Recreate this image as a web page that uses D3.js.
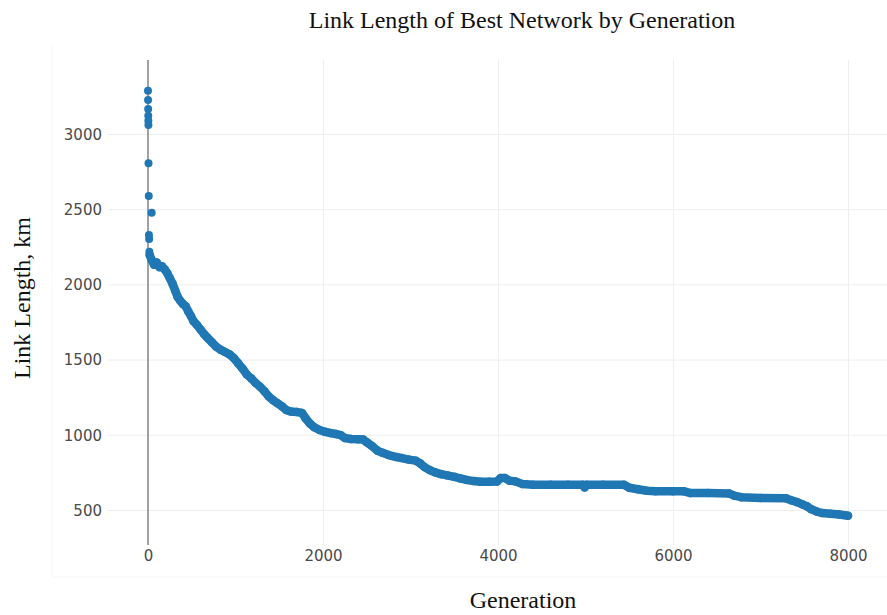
<!DOCTYPE html>
<html>
<head>
<meta charset="utf-8">
<script src="https://cdn.jsdelivr.net/npm/d3@7"></script>
<style>
  html, body { margin: 0; padding: 0; background: #fff; }
  svg { display: block; }
</style>
</head>
<body>
<svg id="chart" width="887" height="615"></svg>
<script>
// Early generations: scattered best-network link lengths before the run settles
const earlyGeneration = [0, 1, 2, 3, 4, 5, 6, 9, 42, 11, 13, 16];
const earlyLength     = [3288, 3226, 3166, 3122, 3088, 3060, 2805, 2588, 2477, 2328, 2301, 2217];

// Main trace: link length (km) of the best network per generation
const generation = [20, 40, 70, 100, 130, 160, 190, 220, 250, 280, 310, 340, 370, 400, 430, 460, 490, 520, 560, 600,
  640, 680, 730, 780, 830, 880, 930, 980, 1030, 1080, 1130, 1180, 1230, 1280, 1330, 1380, 1430, 1480, 1530, 1580,
  1630, 1700, 1760, 1800, 1850, 1900, 1960, 2020, 2080, 2150, 2200, 2250, 2320, 2400, 2460, 2500, 2560, 2620, 2680, 2750,
  2840, 2900, 2980, 3060, 3110, 3160, 3220, 3280, 3350, 3420, 3500, 3570, 3640, 3720, 3800, 3900, 3990, 4030, 4080, 4130,
  4200, 4280, 4400, 4600, 4800, 4970, 4990, 5010, 5200, 5440, 5500, 5600, 5700, 5800, 6000, 6120, 6200, 6400, 6640, 6700,
  6780, 7000, 7290, 7350, 7420, 7480, 7530, 7580, 7640, 7700, 7800, 7900, 8000];
const linkLength = [2195, 2165, 2130, 2145, 2115, 2120, 2100, 2075, 2040, 2005, 1960, 1915, 1890, 1870, 1855, 1820, 1790, 1755, 1730, 1700,
  1670, 1645, 1615, 1585, 1565, 1550, 1535, 1510, 1475, 1440, 1400, 1375, 1345, 1320, 1290, 1255, 1230, 1210, 1190, 1165,
  1155, 1152, 1145, 1110, 1075, 1050, 1032, 1020, 1012, 1005, 998, 978, 972, 970, 968, 950, 925, 895, 880, 865,
  852, 845, 835, 828, 810, 785, 765, 750, 738, 730, 720, 710, 700, 692, 688, 688, 690, 712, 712, 695,
  690, 672, 668, 668, 668, 668, 650, 668, 668, 668, 648, 638, 628, 625, 625, 625, 612, 612, 610, 595,
  585, 580, 578, 565, 552, 537, 525, 505, 490, 480, 475, 470, 462];

const xTicks = [0, 2000, 4000, 6000, 8000];
const yTicks = [500, 1000, 1500, 2000, 2500, 3000];

const markerColor = "#1f77b4";
const plot = { left: 108, right: 887, top: 60, bottom: 545 };

const svg = d3.select("#chart");

const x = d3.scaleLinear().domain([-457, 8446]).range([plot.left, plot.right]);
const y = d3.scaleLinear().domain([267, 3492]).range([plot.bottom, plot.top]);

// faint page frame lines
svg.append("line").attr("x1", 52).attr("x2", 52).attr("y1", 45).attr("y2", 577)
  .attr("stroke", "#f6f6f6").attr("stroke-width", 1);
svg.append("line").attr("x1", 52).attr("x2", 887).attr("y1", 577).attr("y2", 577)
  .attr("stroke", "#f6f6f6").attr("stroke-width", 1);

// grid
const grid = svg.append("g");
grid.selectAll("line.h").data(yTicks).join("line")
  .attr("x1", plot.left).attr("x2", plot.right)
  .attr("y1", d => y(d) + 0.5).attr("y2", d => y(d) + 0.5)
  .attr("stroke", "#eeeeee").attr("stroke-width", 1);
grid.selectAll("line.v").data(xTicks.filter(d => d !== 0)).join("line")
  .attr("x1", d => x(d) + 0.5).attr("x2", d => x(d) + 0.5)
  .attr("y1", plot.top).attr("y2", plot.bottom)
  .attr("stroke", "#eeeeee").attr("stroke-width", 1);

// zero line
svg.append("line")
  .attr("x1", x(0)).attr("x2", x(0))
  .attr("y1", plot.top).attr("y2", plot.bottom)
  .attr("stroke", "#8a8a8a").attr("stroke-width", 1.6);

// axes (labels only)
const tickFont = "'DejaVu Sans', Verdana, sans-serif";
const yAxis = svg.append("g").attr("transform", `translate(${plot.left - 6},0)`)
  .call(d3.axisLeft(y).tickValues(yTicks).tickSize(0).tickPadding(0).tickFormat(d3.format("d")));
yAxis.select(".domain").remove();
yAxis.selectAll("text").attr("font-family", tickFont).attr("font-size", 15).attr("fill", "#4a4a4a")
  .attr("dy", "0.36em");

const xAxis = svg.append("g").attr("transform", `translate(0,${plot.bottom + 5})`)
  .call(d3.axisBottom(x).tickValues(xTicks).tickSize(0).tickPadding(0).tickFormat(d3.format("d")));
xAxis.select(".domain").remove();
xAxis.selectAll("text").attr("font-family", tickFont).attr("font-size", 15).attr("fill", "#4a4a4a")
  .attr("dy", "0.76em");

// data markers
const pts = generation.map((g, i) => [g, linkLength[i]]);
svg.append("path")
  .datum(pts)
  .attr("d", d3.line().x(d => x(d[0])).y(d => y(d[1])))
  .attr("fill", "none").attr("stroke", markerColor)
  .attr("stroke-width", 8.5).attr("stroke-linejoin", "round").attr("stroke-linecap", "round");
svg.append("g").selectAll("circle").data(pts).join("circle")
  .attr("cx", d => x(d[0])).attr("cy", d => y(d[1])).attr("r", 4.25).attr("fill", markerColor);
svg.append("g").selectAll("circle").data(earlyGeneration.map((g, i) => [g, earlyLength[i]])).join("circle")
  .attr("cx", d => x(d[0])).attr("cy", d => y(d[1])).attr("r", 4).attr("fill", markerColor);

// titles
const serif = "'Liberation Serif', 'Times New Roman', serif";
svg.append("text").attr("x", 522).attr("y", 28).attr("text-anchor", "middle")
  .attr("font-family", serif).attr("font-size", 24).attr("fill", "#111")
  .text("Link Length of Best Network by Generation");
svg.append("text").attr("x", 523).attr("y", 608).attr("text-anchor", "middle")
  .attr("font-family", serif).attr("font-size", 24).attr("fill", "#111")
  .text("Generation");
svg.append("text").attr("transform", "translate(30,298) rotate(-90)").attr("text-anchor", "middle")
  .attr("font-family", serif).attr("font-size", 24).attr("fill", "#111")
  .text("Link Length, km");
</script>
</body>
</html>
